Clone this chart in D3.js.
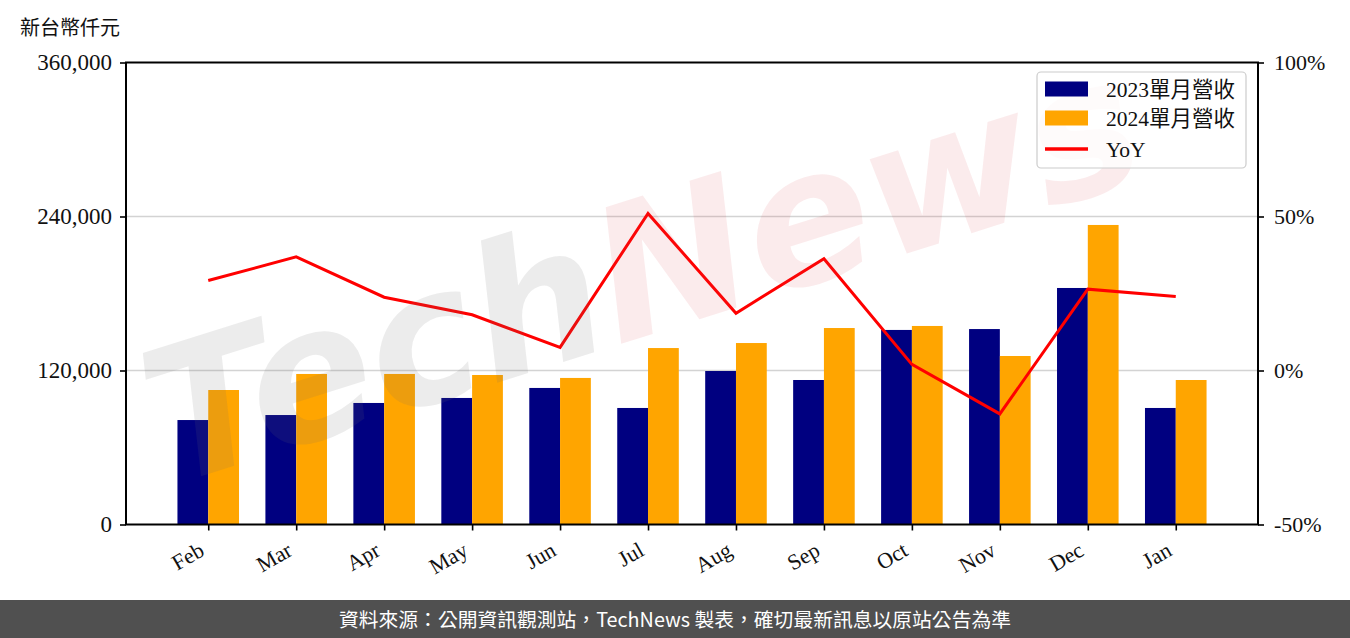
<!DOCTYPE html>
<html><head><meta charset="utf-8">
<script src="https://cdn.jsdelivr.net/npm/d3@7"></script>
<style>
html,body{margin:0;padding:0;background:#fff;}
svg{display:block;}
</style></head>
<body>
<svg id="chart" width="1350" height="638"></svg>
<script>
const months = ["Feb","Mar","Apr","May","Jun","Jul","Aug","Sep","Oct","Nov","Dec","Jan"];
const rev2023 = [81400, 85300, 94700, 98600, 106400, 90800, 119600, 112600, 151600, 152300, 184300, 90800];
const rev2024 = [104800, 117300, 117300, 116500, 114200, 137500, 141400, 153100, 154700, 131300, 233400, 112600];
const yoy = [29.2, 36.9, 23.8, 18.1, 7.5, 51.0, 18.6, 36.3, 2.0, -14.1, 26.4, 24.0];
const leftTicks = [0, 120000, 240000, 360000];
const rightTicks = [-50, 0, 50, 100];
const seriesNames = ["2023單月營收", "2024單月營收", "YoY"];
const yAxisTitle = "新台幣仟元";
const footerText = "資料來源：公開資訊觀測站，TechNews 製表，確切最新訊息以原站公告為準";

const svg = d3.select("#chart");
const L = 126, R = 1258, T = 62.5, B = 524.5;
const serif = "'Liberation Serif','Noto Sans CJK TC',serif";
const sans = "'Noto Sans CJK TC','Noto Sans',sans-serif";

const idx = months.map((d,i)=>i);
const x = d3.scaleLinear().domain([-0.935, 11.935]).range([L, R]);
const bw = 0.35;
const yL = d3.scaleLinear().domain([0, 360000]).range([B, T]);
const yR = d3.scaleLinear().domain([-50, 100]).range([B, T]);

// gridlines
svg.append("g").selectAll("line").data(leftTicks.filter(v=>v>0 && v<360000)).join("line")
  .attr("x1", L).attr("x2", R).attr("y1", d=>yL(d)).attr("y2", d=>yL(d))
  .attr("stroke", "#d3d3d3").attr("stroke-width", 1.6);

// bars
svg.append("g").selectAll("rect").data(rev2023).join("rect")
  .attr("x", (d,i)=>x(i - bw)).attr("width", (d,i)=>x(i)-x(i-bw))
  .attr("y", d=>yL(d)).attr("height", d=>B-yL(d)).attr("fill", "#000080");
svg.append("g").selectAll("rect").data(rev2024).join("rect")
  .attr("x", (d,i)=>x(i)).attr("width", (d,i)=>x(i+bw)-x(i))
  .attr("y", d=>yL(d)).attr("height", d=>B-yL(d)).attr("fill", "#FFA500");

// YoY line
svg.append("path").datum(yoy)
  .attr("d", d3.line().x((d,i)=>x(i)).y(d=>yR(d)))
  .attr("fill", "none").attr("stroke", "#ff0000").attr("stroke-width", 3)
  .attr("stroke-linejoin", "miter");

// watermark
const wm = svg.append("text")
  .attr("transform", "translate(170,486) rotate(-17.5)")
  .attr("font-family", "'DejaVu Sans',sans-serif").attr("font-style", "italic").attr("font-weight", "bold")
  .attr("font-size", 185);
wm.append("tspan").text("Tech").attr("fill", "rgba(110,110,110,0.13)");
wm.append("tspan").text("News").attr("fill", "rgba(215,60,70,0.10)");

// axes
const gl = svg.append("g").attr("transform", `translate(${L},0)`)
  .call(d3.axisLeft(yL).tickValues(leftTicks).tickSize(6).tickPadding(8).tickFormat(d3.format(",")));
const gr = svg.append("g").attr("transform", `translate(${R},0)`)
  .call(d3.axisRight(yR).tickValues(rightTicks).tickSize(6).tickPadding(10).tickFormat(d=>d+"%"));
const gb = svg.append("g").attr("transform", `translate(0,${B})`)
  .call(d3.axisBottom(x).tickValues(idx).tickSize(6).tickFormat(i=>months[i]));
[gl, gr, gb].forEach(g=>{
  g.select(".domain").remove();
  g.selectAll(".tick line").attr("stroke", "#000").attr("stroke-width", 1.6);
  g.selectAll("text").attr("font-family", serif).attr("font-size", 22).attr("fill", "#111");
});
gl.selectAll("text").attr("font-size", 23);
gb.selectAll("text").attr("text-anchor", "end").attr("font-size", 22)
  .attr("y", 0).attr("dy", 0)
  .attr("transform", "translate(-3,30) rotate(-30)");

// frame
svg.append("rect").attr("x", L).attr("y", T).attr("width", R-L).attr("height", B-T)
  .attr("fill", "none").attr("stroke", "#000").attr("stroke-width", 2);

// y axis title
svg.append("text").attr("x", 20).attr("y", 35).text(yAxisTitle)
  .attr("font-family", serif).attr("font-size", 20).attr("fill", "#111");

// legend
const lg = svg.append("g");
lg.append("rect").attr("x", 1037).attr("y", 72).attr("width", 209).attr("height", 96)
  .attr("rx", 4).attr("fill", "rgba(255,255,255,0.8)").attr("stroke", "#cccccc").attr("stroke-width", 1.2);
const colors = ["#000080", "#FFA500", "#ff0000"];
const rowY = [89, 118, 149];
seriesNames.forEach((n,i)=>{
  if (i < 2) {
    lg.append("rect").attr("x", 1045).attr("y", rowY[i]-7.5).attr("width", 43).attr("height", 15).attr("fill", colors[i]);
  } else {
    lg.append("line").attr("x1", 1045).attr("x2", 1088).attr("y1", rowY[i]).attr("y2", rowY[i])
      .attr("stroke", colors[i]).attr("stroke-width", 3.5);
  }
  lg.append("text").attr("x", 1106).attr("y", rowY[i]).attr("dy", "0.36em").text(n)
    .attr("font-family", serif).attr("font-size", 21.5).attr("fill", "#111");
});

// footer
svg.append("rect").attr("x", 0).attr("y", 600).attr("width", 1350).attr("height", 38).attr("fill", "#505050");
svg.append("text").attr("x", 675).attr("y", 620).attr("dy", "0.36em").attr("text-anchor", "middle")
  .text(footerText).attr("font-family", sans).attr("font-size", 19.8).attr("fill", "#ffffff");
</script>
</body></html>
